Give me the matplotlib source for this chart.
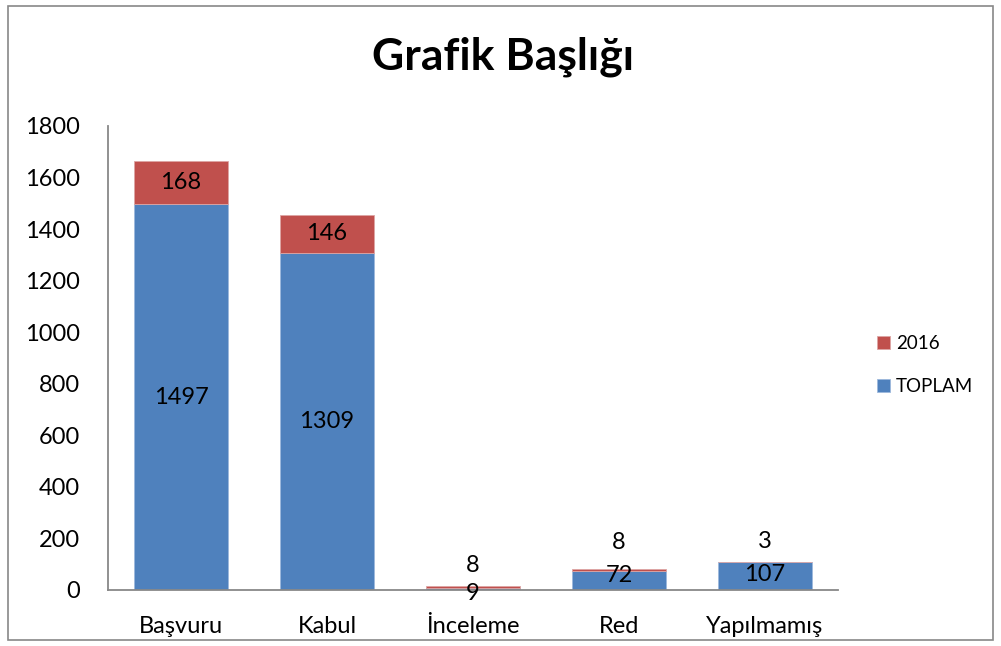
import matplotlib
matplotlib.use("Agg")
import matplotlib.pyplot as plt
from matplotlib.patches import Rectangle
import numpy as np

categories = ["Başvuru", "Kabul", "İnceleme", "Red", "Yapılmamış"]
toplam = [1497, 1309, 9, 72, 107]
y2016 = [168, 146, 8, 8, 3]
yticks = [0, 200, 400, 600, 800, 1000, 1200, 1400, 1600, 1800]

# label offsets (points) mimicking Excel's label placement for tiny segments
off_toplam = [0, 0, -3, 4, 1]
off_2016 = [0, 0, 15, 20, 15]

plt.rcParams['font.family'] = ['Lato', 'DejaVu Sans']

fig = plt.figure(figsize=(10.01, 6.46), dpi=100)
fig.patches.append(Rectangle((8/1001, 6/646), 985/1001, 634/646, transform=fig.transFigure,
                             fill=False, edgecolor="#888888", linewidth=1.2))

ax = fig.add_axes([108/1001, 1-590/646, 730/1001, 464/646])
x = np.arange(len(categories))
blue = "#4F81BD"
red = "#C0504D"
b1 = ax.bar(x, toplam, width=0.645, color=blue, edgecolor="#9DB9DC", linewidth=0.6, label="TOPLAM")
b2 = ax.bar(x, y2016, bottom=toplam, width=0.645, color=red, edgecolor="#DDA5A4", linewidth=0.6, label="2016")

fs = 17
for i in range(len(categories)):
    ax.annotate(str(toplam[i]), (x[i], toplam[i]/2), xytext=(0, off_toplam[i]), textcoords="offset points",
                ha="center", va="center", fontsize=fs, color="black")
    ax.annotate(str(y2016[i]), (x[i], toplam[i] + y2016[i]/2), xytext=(0, off_2016[i]), textcoords="offset points",
                ha="center", va="center", fontsize=fs, color="black")

ax.set_xlim(-0.5, len(categories) - 0.5)
ax.set_ylim(0, 1800)
ax.set_yticks(yticks)
ax.set_xticks(x)
ax.set_xticklabels(categories, fontsize=fs)
ax.tick_params(axis="y", labelsize=fs, length=0, pad=20)
ax.tick_params(axis="x", length=0, pad=19)
for s in ["top", "right"]:
    ax.spines[s].set_visible(False)
for s in ["left", "bottom"]:
    ax.spines[s].set_color("#888888")
    ax.spines[s].set_linewidth(1.3)

fig.text(503/1001, 1-57/646, "Grafik Başlığı", ha="center", va="center", fontsize=32, fontweight="bold")

handles = [b2, b1]
leg = fig.legend(handles, ["2016", "TOPLAM"], loc="center left", bbox_to_anchor=(860/1001, 1-365/646),
                 frameon=False, fontsize=13.5, handlelength=0.7, handleheight=0.7, handletextpad=0.3,
                 labelspacing=1.4)

fig.savefig("out.png", dpi=100)
